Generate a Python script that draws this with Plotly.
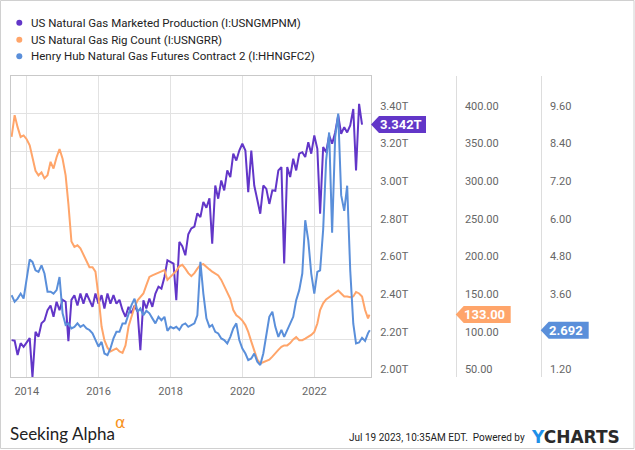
import pandas as pd
import plotly.graph_objects as go

# ---------------- data ----------------
series_names = [
    "US Natural Gas Marketed Production (I:USNGMPNM)",
    "US Natural Gas Rig Count (I:USNGRR)",
    "Henry Hub Natural Gas Futures Contract 2 (I:HHNGFC2)",
]
series_colors = ["#6236C8", "#FFA56A", "#5A8FDA"]

start_month_end = "2013-07-31"

# monthly, trillion cubic feet (Jul 2013 .. Apr 2023)
prod_values = [
    2.196, 2.193, 2.117, 2.18, 2.16, 2.187,
    2.207, 2.00, 2.24, 2.214, 2.286, 2.30, 2.355, 2.38, 2.32, 2.40, 2.355, 2.41,
    2.40, 2.19, 2.41, 2.435, 2.38, 2.444, 2.39, 2.444, 2.41, 2.373, 2.444, 2.39,
    2.435, 2.364, 2.444, 2.39, 2.435, 2.39, 2.41, 2.355, 2.32, 2.373, 2.338, 2.38,
    2.347, 2.143, 2.408, 2.364, 2.417, 2.373, 2.444, 2.48, 2.47, 2.532, 2.62, 2.612,
    2.603, 2.408, 2.718, 2.695, 2.647, 2.759, 2.79, 2.80, 2.87, 2.85, 2.93, 2.90,
    2.95, 2.709, 3.018, 2.948, 3.045, 2.992, 3.098, 3.063, 3.187, 3.151, 3.204, 3.24,
    3.204, 2.983, 3.204, 3.018, 2.948, 2.868, 3.018, 3.00, 2.92, 2.992, 2.99, 3.098,
    3.116, 2.603, 3.116, 3.063, 3.16, 3.098, 3.187, 3.195, 3.169, 3.248, 3.187, 3.284,
    3.213, 2.868, 3.222, 3.195, 3.284, 3.24, 3.30, 3.39, 3.293, 3.328, 3.30, 3.337,
    3.425, 3.098, 3.452, 3.342,
]

# rig count, month-end readings (Jul 2013 .. Jun 2023) + latest weekly value
rig_values = [
    369, 398, 382, 369, 371, 366,
    358, 340, 324, 318, 322, 314, 318, 336, 327, 342, 353, 340,
    318, 280, 230, 223, 225, 221, 212, 205, 196, 196, 190, 157,
    117, 99, 89, 84, 86, 88, 84, 82, 92, 117, 130, 143,
    152, 156, 161, 172, 183, 185, 187, 188, 190, 192, 179, 183,
    188, 191, 197, 199, 194, 188, 184, 188, 194, 199, 200, 197,
    193, 190, 187, 185, 179, 171, 163, 154, 139, 132, 129, 125,
    119, 110, 97, 84, 73, 68, 70, 72, 73, 77, 82, 86,
    90, 92, 92, 95, 100, 103, 99, 99, 101, 103, 106, 110,
    121, 139, 148, 153, 156, 159, 162, 165, 161, 157, 157, 156,
    157, 163, 161, 157, 139, 128,
    133,
]
rig_last_date = "2023-07-14"

# Henry Hub contract 2, month-end readings (Jul 2013 .. Jun 2023) + latest value
hh_values = [
    3.81, 3.60, 3.70, 3.86, 3.70, 4.29,
    4.95, 4.87, 4.60, 4.55, 4.76, 4.50, 3.92, 3.92, 3.86, 3.97, 4.39, 3.23,
    2.86, 2.91, 2.75, 2.80, 2.91, 2.80, 2.86, 2.75, 2.70, 2.59, 2.38, 2.17,
    2.32, 1.95, 1.90, 2.11, 2.43, 2.64, 2.64, 2.91, 2.91, 3.23, 3.49, 3.70,
    3.28, 3.39, 3.17, 3.31, 3.23, 3.07, 2.91, 3.12, 3.01, 3.12, 2.67, 2.80,
    2.75, 2.80, 2.70, 2.86, 2.91, 2.80, 2.86, 2.91, 3.17, 4.87, 3.86, 3.07,
    2.80, 2.86, 2.64, 2.59, 2.43, 2.38, 2.27, 2.48, 2.75, 2.91, 2.38, 2.11,
    1.95, 1.74, 1.79, 1.95, 1.69, 1.58, 1.95, 2.48, 3.12, 3.28, 2.80, 2.48,
    2.70, 2.48, 2.70, 2.86, 3.12, 3.65, 3.97, 4.50, 6.20, 5.56, 4.50, 3.86,
    4.55, 4.60, 5.90, 8.10, 9.00, 5.80, 8.85, 9.60, 7.00, 6.50, 7.30, 4.60,
    2.90, 2.27, 2.30, 2.45, 2.35, 2.60,
    2.692,
]
hh_last_date = "2023-07-18"

x_range = ["2013-07-25", "2023-07-30"]
year_tickvals = ["2014-01-01", "2016-01-01", "2018-01-01", "2020-01-01", "2022-01-01"]
year_ticktext = ["2014", "2016", "2018", "2020", "2022"]
prod_ticks = [2.0, 2.2, 2.4, 2.6, 2.8, 3.0, 3.2, 3.4]
rig_ticks = [50, 100, 150, 200, 250, 300, 350, 400]
hh_ticks = [1.2, 3.6, 4.8, 6.0, 7.2, 8.4, 9.6]  # 2.40 sits under the last-value flag

# ---------------- dates ----------------
me = pd.offsets.MonthEnd()
prod_dates = pd.date_range(start_month_end, periods=len(prod_values), freq=me)
rig_dates = list(pd.date_range(start_month_end, periods=len(rig_values) - 1, freq=me)) + [pd.Timestamp(rig_last_date)]
hh_dates = list(pd.date_range(start_month_end, periods=len(hh_values) - 1, freq=me)) + [pd.Timestamp(hh_last_date)]

# ---------------- geometry helpers ----------------
W, H = 635, 450
ML, MR, MT, MB = 11, 35, 76, 73
PW = W - ML - MR
PH = H - MT - MB
PLOT_W = 360


def px(xp):
    return (xp - ML) / PW


def py(yp):
    return (H - MB - yp) / PH


x_end = PLOT_W / PW
rig_axis_pos = px(455.7)
hh_axis_pos = px(540.7)

FONT = "Roboto, Arial, sans-serif"
TICK_FONT = dict(family=FONT, size=11, color="#666666")
GRID = "#e2e2e2"
BORDER = "#c9c9c9"

fig = go.Figure()
fig.add_trace(go.Scatter(x=prod_dates, y=prod_values, mode="lines", name=series_names[0],
                         line=dict(color=series_colors[0], width=2), yaxis="y", showlegend=False))
fig.add_trace(go.Scatter(x=rig_dates, y=rig_values, mode="lines", name=series_names[1],
                         line=dict(color=series_colors[1], width=2), yaxis="y2", showlegend=False))
fig.add_trace(go.Scatter(x=hh_dates, y=hh_values, mode="lines", name=series_names[2],
                         line=dict(color=series_colors[2], width=2), yaxis="y3", showlegend=False))

common_y = dict(ticks="", ticklabelposition="outside top", ticklabelstandoff=6,
                tickfont=TICK_FONT, zeroline=False, automargin=False, fixedrange=True)

fig.update_layout(
    template="none",
    width=W, height=H,
    margin=dict(l=ML, r=MR, t=MT, b=MB, pad=0),
    paper_bgcolor="white", plot_bgcolor="white",
    font=dict(family=FONT, color="#333333"),
    showlegend=False,
    xaxis=dict(type="date", domain=[0, x_end], range=x_range,
               tickvals=year_tickvals, ticktext=year_ticktext, tickfont=TICK_FONT,
               showgrid=True, gridcolor=GRID, gridwidth=1,
               showline=True, linecolor=BORDER, linewidth=1, mirror=True,
               ticks="", ticklabelstandoff=4, zeroline=False, automargin=False, fixedrange=True),
    yaxis=dict(range=[2.0, 3.6], side="right", anchor="x", tickvals=prod_ticks,
               ticktext=[f"{v:.2f}T" for v in prod_ticks], showgrid=True, gridcolor=GRID,
               showline=True, linecolor=BORDER, linewidth=1, mirror=True, **common_y),
    yaxis2=dict(range=[50, 450], side="right", overlaying="y", anchor="free",
                position=rig_axis_pos, tickvals=rig_ticks, tickformat=".2f",
                showgrid=False, showline=True, linecolor="#dddddd", linewidth=1, **common_y),
    yaxis3=dict(range=[1.2, 10.8], side="right", overlaying="y", anchor="free",
                position=hh_axis_pos, tickvals=hh_ticks, tickformat=".2f",
                showgrid=False, showline=True, linecolor="#dddddd", linewidth=1, **common_y),
)

shapes = []
annotations = []

# outer frame
shapes.append(dict(type="rect", xref="paper", yref="paper",
                   x0=px(0.5), x1=px(634), y0=py(0.5), y1=py(448.5),
                   line=dict(color="#d0d0d0", width=1), fillcolor="rgba(0,0,0,0)", layer="below"))

# legend (dot + text)
legend_rows = [22.7, 39.7, 56.2]
for name, color, row in zip(series_names, series_colors, legend_rows):
    shapes.append(dict(type="circle", xref="paper", yref="paper",
                       xsizemode="pixel", ysizemode="pixel",
                       xanchor=px(19.3), yanchor=py(row),
                       x0=-3, x1=3, y0=-3, y1=3,
                       fillcolor=color, line=dict(width=0)))
    annotations.append(dict(text=name, xref="paper", yref="paper", x=px(28.5), y=py(row),
                            xanchor="left", yanchor="middle", showarrow=False,
                            font=dict(family=FONT, size=11.5, color="#222222")))

# last-value flags
flags = [
    (x_end, "y", prod_values[-1], f"{prod_values[-1]:.3f}T", series_colors[0], 55, 30),
    (rig_axis_pos, "y2", rig_values[-1], f"{rig_values[-1]:.2f}", series_colors[1], 55, 29),
    (hh_axis_pos, "y3", hh_values[-1], f"{hh_values[-1]:.3f}", series_colors[2], 48, 25),
]
for xa, yref, val, txt, color, wdt, tshift in flags:
    shapes.append(dict(type="path", xref="paper", yref=yref,
                       xsizemode="pixel", ysizemode="pixel", xanchor=xa, yanchor=val,
                       path=f"M0,0 L8,8.5 L{wdt},8.5 L{wdt},-8.5 L8,-8.5 Z",
                       fillcolor=color, line=dict(width=0)))
    annotations.append(dict(text=f"<b>{txt}</b>", xref="paper", yref=yref, x=xa, y=val,
                            xanchor="center", yanchor="middle", xshift=tshift, showarrow=False,
                            font=dict(family=FONT, size=13, color="white")))

# footer
annotations.append(dict(text="Seeking Alpha", xref="paper", yref="paper", x=px(7.5), y=py(433.5),
                        xanchor="left", yanchor="middle", showarrow=False,
                        font=dict(family="Lato, Roboto, sans-serif", size=17, color="#222222")))
annotations.append(dict(text="α", xref="paper", yref="paper", x=px(112.5), y=py(422),
                        xanchor="left", yanchor="middle", showarrow=False,
                        font=dict(family="DejaVu Sans, sans-serif", size=16, color="#F7931E")))
annotations.append(dict(text="Jul 19 2023, 10:35AM EDT.  Powered by", xref="paper", yref="paper",
                        x=px(527), y=py(437), xanchor="right", yanchor="middle", showarrow=False,
                        font=dict(family="Liberation Sans Narrow, Roboto, sans-serif",
                                  size=10, color="#222222")))
annotations.append(dict(text="<span style='color:#1E90E8'>Y</span>CHARTS", xref="paper", yref="paper",
                        x=px(528.5), y=py(436.5), xanchor="left", yanchor="middle", showarrow=False,
                        font=dict(family="DejaVu Sans, sans-serif", size=17, color="#2a2a2a",
                                  weight="bold")))

fig.update_layout(shapes=shapes, annotations=annotations)
fig.write_html("out.html", config={"displayModeBar": False, "staticPlot": True},
               post_script="document.body.style.margin='0';")
